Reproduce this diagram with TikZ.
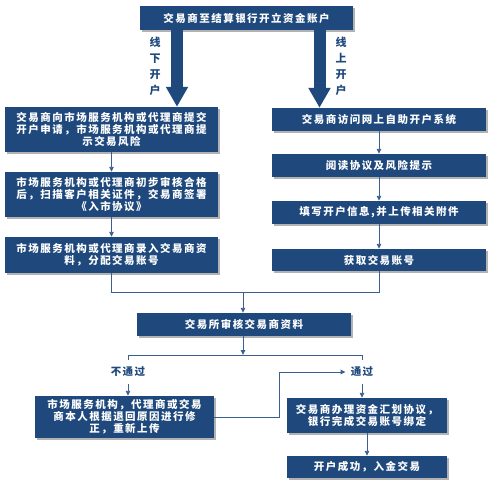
\documentclass[tikz,border=0pt]{standalone}
\usepackage{fontspec}
\newfontfamily\cjk{Noto Sans CJK SC}[LetterSpace=14]
\usepackage{tikz}
\usetikzlibrary{arrows.meta,shadows}
\definecolor{boxblue}{RGB}{31,73,125}
\definecolor{lineblue}{RGB}{60,95,145}

\begin{document}
\begin{tikzpicture}[
  x=1pt, y=-1pt,
  every node/.style={inner sep=0pt,font=\cjk\bfseries\fontsize{10.5}{12}\selectfont},
  stepbox/.style={fill=boxblue,text=white,align=center,
   drop shadow={shadow xshift=2pt,shadow yshift=-2pt,fill=black!30,opacity=1}},
  tag/.style={text=boxblue,align=center},
  wire/.style={draw=lineblue,line width=0.9pt},
  flow/.style={wire,-{Triangle[length=5pt,width=4.5pt]}},
  bigarrow/.style={draw=boxblue,line width=12pt,-{Triangle[length=20pt,width=21pt]}}
  ]
  \useasboundingbox (0,0) rectangle (496,488);

  \node[stepbox,minimum width=213pt,minimum height=24pt] (open) at (246.5,18) {交易商至结算银行开立资金账户};

  % offline
  \node[stepbox,minimum width=213pt,minimum height=45pt] (L1) at (111.5,129.5) {交易商向市场服务机构或代理商提交\\开户申请，市场服务机构或代理商提\\示交易风险};
  \node[stepbox,minimum width=213pt,minimum height=45pt] (L2) at (111.5,194.5) {市场服务机构或代理商初步审核合格\\后，扫描客户相关证件，交易商签署\\《入市协议》};
  \node[stepbox,minimum width=213pt,minimum height=36pt] (L3) at (111.5,255) {市场服务机构或代理商录入交易商资\\料，分配交易账号};

  % online
  \node[stepbox,minimum width=214pt,minimum height=23pt] (R1) at (379,119.5) {交易商访问网上自助开户系统};
  \node[stepbox,minimum width=214pt,minimum height=23pt] (R2) at (379,165.5) {阅读协议及风险提示};
  \node[stepbox,minimum width=214pt,minimum height=23pt] (R3) at (379,212.5) {填写开户信息,并上传相关附件};
  \node[stepbox,minimum width=214pt,minimum height=22pt] (R4) at (379,260) {获取交易账号};

  \node[stepbox,minimum width=214pt,minimum height=23pt] (check) at (244,324.5) {交易所审核交易商资料};

  \node[stepbox,minimum width=179pt,minimum height=42pt] (redo) at (124.5,417) {市场服务机构，代理商或交易\\商本人根据退回原因进行修\\正，重新上传};
  \node[stepbox,minimum width=160pt,minimum height=35pt] (bind) at (367,415.5) {交易商办理资金汇划协议，\\银行完成交易账号绑定};
  \node[stepbox,minimum width=160pt,minimum height=22pt] (done) at (367,467) {开户成功，入金交易};

  \node[tag,font=\cjk\bfseries\fontsize{11}{16}\selectfont] (offline) at (155,66) {线\\下\\开\\户};
  \node[tag,font=\cjk\bfseries\fontsize{11}{16}\selectfont] (online) at (341,66) {线\\上\\开\\户};
  \node[tag] (fail) at (128,372) {不通过};
  \node[tag] (pass) at (362,372) {通过};

  \coordinate (offx) at (177,0);
  \coordinate (onx) at (319.5,0);
  \coordinate (join) at (243,292);
  \coordinate (split) at (243,355);

  \draw[bigarrow] (open.south -| offx) -- (L1.north -| offx);
  \draw[bigarrow] (open.south -| onx) -- (R1.north -| onx);

  \draw[flow] (L1.south) -- (L2.north);
  \draw[flow] (L2.south) -- (L3.north);
  \draw[flow] (R1.south) -- (R2.north);
  \draw[flow] (R2.south) -- (R3.north);
  \draw[flow] (R3.south) -- (R4.north);

  \draw[wire] (L3.south) |- (join);
  \draw[wire] (R4.south) |- (join);
  \draw[flow] (join) -- (check.north -| join);
  \draw[flow] (check.south -| split) -- (split);
  \draw[wire,shorten >=7pt] (split) -| (fail.north);
  \draw[wire,shorten >=7pt] (split) -| (pass.north);
  \draw[flow,shorten <=7pt] (fail.south) -- (redo.north -| fail);
  \draw[flow,shorten <=7pt] (pass.south) -- (bind.north -| pass);
  \draw[flow] (bind.south) -- (done.north);
  \draw[flow,shorten >=5pt] (redo.east) -- ++(65,0) |- (pass.west);
\end{tikzpicture}
\end{document}
